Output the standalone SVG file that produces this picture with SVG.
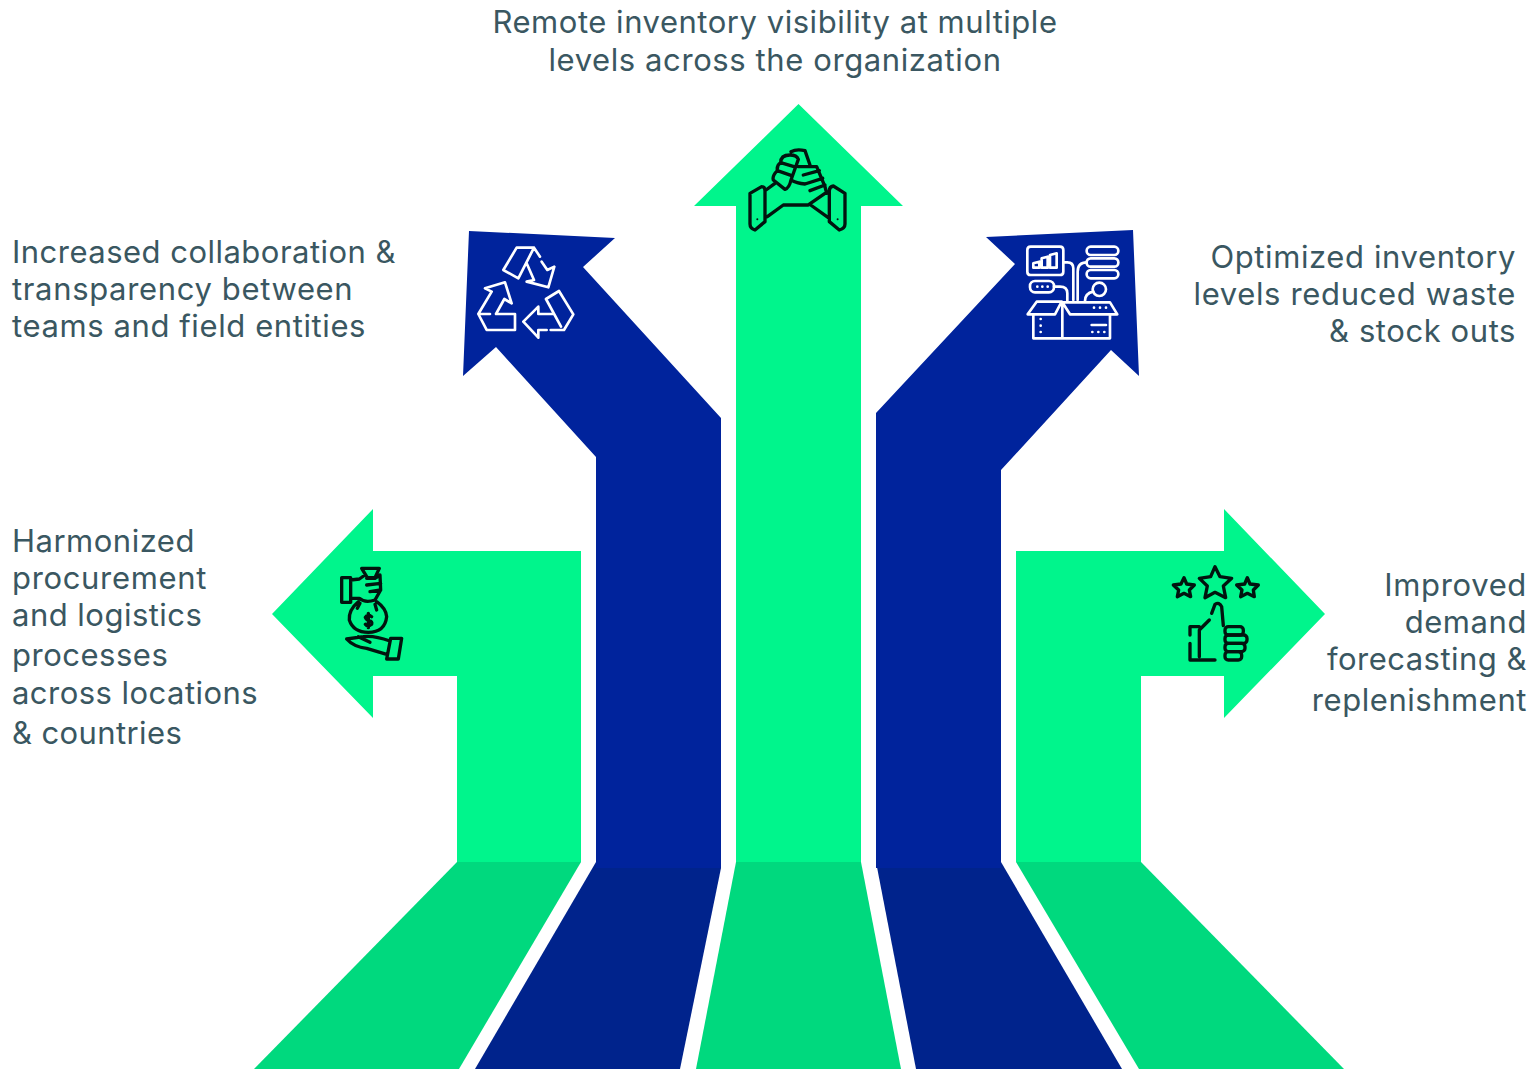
<svg xmlns="http://www.w3.org/2000/svg" width="1531" height="1069" viewBox="0 0 1531 1069">
<style>
.g{fill:#00F58C}.b{fill:#00239C}.dg{fill:#00D97E}.db{fill:#00238C}
text{font-family:Inter,"Liberation Sans",sans-serif;font-size:31px;fill:#3A5761}
.e{text-anchor:end}.m{text-anchor:middle}
.k,.w{fill:none;stroke-linecap:round;stroke-linejoin:round}
.k{stroke:#02140f;stroke-width:10}.w{stroke:#fff;stroke-width:8}
</style>
<rect width="1531" height="1069" fill="#fff"/>
<g id="connectors">
<path class="dg" d="M457 862H581L459 1069H254Z"/>
<path class="db" d="M596 862L721 868L680 1069H475Z"/>
<path class="dg" d="M736 862H861L901 1069H696Z"/>
<path class="db" d="M876 862H1001L1122 1069H916Z"/>
<path class="dg" d="M1016 862H1141L1344 1069H1139Z"/>
</g>
<g id="node-top">
<path class="g" d="M798.500 104L903 206H861V862H736V206H694Z"/>
<g transform="translate(690,100) scale(.3333)"><path class="k" d="M180 280L215 260Q225 260 225 272V365L195 390Q180 385 180 372ZM465 280L430 258Q418 260 418 272V365L448 390Q465 385 465 372ZM228 270L255 250M232 350L280 315H355L405 280M362 315L418 355M300 165Q272 165 272 188Q260 195 262 212Q246 228 250 240L285 268Q298 264 303 240L318 198L325 178Q320 165 300 165ZM272 188L312 200M262 212L303 226M303 155Q320 146 345 152L360 195M325 200H380L405 260L410 280M340 225L388 212M345 252L398 235M360 272L405 255M303 240Q320 250 345 252"/><circle cx="202" cy="358" r="3" fill="#02140f"/><circle cx="443" cy="358" r="3" fill="#02140f"/></g>
<text class="m" x="775" y="33" style="letter-spacing:.53px">Remote inventory visibility at multiple</text>
<text class="m" x="775" y="71" style="letter-spacing:.6px">levels across the organization</text>
</g>
<g id="node-left-blue">
<path class="b" d="M469 231L615 238L583 267L721 418V868H596V457L496 347L463 376Z"/>
<g transform="translate(460,225) scale(.3333)"><path class="w" d="M222 68H170L130 135L175 160L222 68L240 95M200 115L222 165L200 170L265 187L283 125L262 135L245 110M55 267L95 200L75 190L135 172L155 235L133 222L108 267H165V315H80L55 267H90M258 222L297 198L340 268L312 315H272M258 222L303 305M280 267H235V245L190 290L235 338V315H260"/></g>
<text x="12" y="263" style="letter-spacing:.48px">Increased collaboration &amp;</text>
<text x="12" y="300" style="letter-spacing:.65px">transparency between</text>
<text x="12" y="337" style="letter-spacing:.6px">teams and field entities</text>
</g>
<g id="node-right-blue">
<path class="b" d="M986 237L1133 230L1139 376L1111 350L1001 470V868H876V413L1015 264Z"/>
<g transform="translate(980,225) scale(.3333)"><path class="w" d="M152 65H240Q250 65 250 75V140Q250 150 240 150H152Q142 150 142 140V75Q142 65 152 65ZM160 128V115L178 110V128ZM185 128V100L203 95V128ZM210 128V90L230 85V128ZM250 112H262Q280 112 280 130V225M320 112Q293 112 293 140V225M222 185H240Q262 185 262 205V228M340 200Q315 205 315 228M143 268L170 230H245L225 268ZM247 232L270 268H412L390 232ZM160 268V340H390V268M247 232V340M335 300H378"/><rect class="w" x="320" y="65" width="95" height="25" rx="12"/><rect class="w" x="320" y="100" width="95" height="25" rx="12"/><rect class="w" x="320" y="135" width="95" height="25" rx="12"/><rect class="w" x="150" y="168" width="72" height="34" rx="15"/><circle class="w" cx="358" cy="193" r="20"/><path class="w" d="M172 185h.1M187 185h.1M203 185h.1M182 282h.1M182 302h.1M182 321h.1M342 248h.1M360 248h.1M378 248h.1M337 321h.1M355 321h.1M373 321h.1"/></g>
<text class="e" x="1516" y="268" style="letter-spacing:.61px">Optimized inventory</text>
<text class="e" x="1516" y="305" style="letter-spacing:.65px">levels reduced waste</text>
<text class="e" x="1516" y="342" style="letter-spacing:.57px">&amp; stock outs</text>
</g>
<g id="node-left-green">
<path class="g" d="M373 509L272 614L373 718V676H457V862H581V551H373Z"/>
<g transform="translate(320,555) scale(.3333)"><path class="k" d="M65 68H92V142H65ZM92 75L118 72L135 60M92 130L118 130Q135 145 165 135L182 105L180 60L165 70H140M125 40L178 40L165 68H142ZM140 90L182 85M150 110L182 105M115 140Q85 165 88 195Q100 232 145 232Q195 232 200 185Q198 160 170 140M112 160L120 145M170 165L165 148M155 185Q143 175 136 187Q140 196 147 196Q158 199 155 208Q143 218 136 208M145 175V218M212 250H245L235 312H200ZM210 258Q160 240 130 245L80 252Q100 275 140 280L200 298M115 245L150 262"/></g>
<text x="12" y="552" style="letter-spacing:.5px">Harmonized</text>
<text x="12" y="589" style="letter-spacing:.67px">procurement</text>
<text x="12" y="626" style="letter-spacing:.48px">and logistics</text>
<text x="12" y="666" style="letter-spacing:.51px">processes</text>
<text x="12" y="704" style="letter-spacing:.46px">across locations</text>
<text x="12" y="744" style="letter-spacing:.4px">&amp; countries</text>
</g>
<g id="node-right-green">
<path class="g" d="M1224 509L1325 614L1224 718V676H1141V862H1016V551H1224Z"/>
<g transform="translate(1160,555) scale(.3333)"><path class="k" d="M165 35L180 65L215 70L190 93L197 128L165 112L135 128L142 93L118 70L152 65ZM72 68L80 87L103 90L88 105L92 125L72 115L52 125L56 105L40 90L63 87ZM262 68L270 87L295 90L280 105L283 125L262 115L242 125L246 105L230 90L254 87ZM155 175L165 148Q178 140 185 155L190 212M118 225L148 195M118 225V305M118 315H165M118 215H90V240M90 265V315H118"/><rect class="k" x="195" y="215" width="55" height="25" rx="10"/><rect class="k" x="195" y="240" width="66" height="25" rx="10"/><rect class="k" x="195" y="265" width="60" height="25" rx="10"/><rect class="k" x="195" y="290" width="50" height="25" rx="10"/></g>
<text class="e" x="1527" y="596" style="letter-spacing:.65px">Improved</text>
<text class="e" x="1527" y="633" style="letter-spacing:.57px">demand</text>
<text class="e" x="1527" y="670" style="letter-spacing:.48px">forecasting &amp;</text>
<text class="e" x="1527" y="711" style="letter-spacing:.55px">replenishment</text>
</g>
</svg>
